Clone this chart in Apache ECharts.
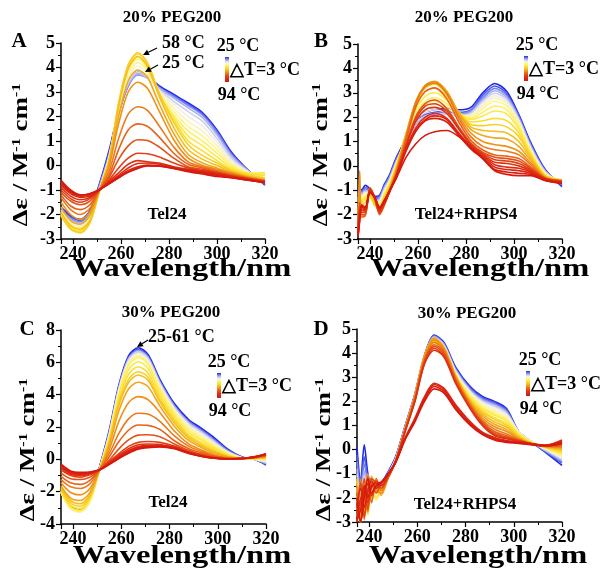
<!DOCTYPE html>
<html><head><meta charset="utf-8">
<script src="https://cdn.jsdelivr.net/npm/echarts@6/dist/echarts.min.js"></script>
<style>html,body{margin:0;padding:0;background:#fff}#c{width:604px;height:571px}</style>
</head><body><div id="c"></div>
<script>
// ---------------- DATA ----------------
const temps = [25,28,31,34,37,40,43,46,49,52,55,58,61,64,67,70,73,76,79,82,85,88,91,94];

// Panel A: Tel24, 20% PEG200
const wlA = [235,239,243,247,251,255,259,263,267,271,276,282,288,294,300,306,313,320];
const specA = [
[-1.7,-2.05,-2.2,-1.85,-0.75,0.6,2.2,3.3,3.8,3.65,3.25,2.9,2.55,2.15,1.45,0.55,-0.2,-0.8],
[-1.75,-2.1,-2.25,-1.9,-0.8,0.5,2.1,3.25,3.72,3.6,3.2,2.85,2.5,2.1,1.4,0.5,-0.2,-0.78],
[-1.8,-2.15,-2.3,-1.95,-0.85,0.45,2.1,3.25,3.7,3.58,3.18,2.82,2.45,2.05,1.35,0.45,-0.22,-0.75],
[-1.82,-2.2,-2.35,-2.0,-0.9,0.4,2.15,3.3,3.72,3.58,3.15,2.75,2.35,1.95,1.25,0.4,-0.22,-0.72],
[-1.85,-2.25,-2.4,-2.05,-0.95,0.35,2.2,3.35,3.8,3.6,3.1,2.62,2.2,1.8,1.1,0.3,-0.25,-0.68],
[-1.9,-2.3,-2.45,-2.1,-1.0,0.3,2.25,3.45,3.9,3.65,3.05,2.5,2.0,1.6,0.95,0.2,-0.25,-0.6],
[-1.92,-2.35,-2.5,-2.15,-1.0,0.3,2.3,3.6,4.05,3.75,3.0,2.35,1.8,1.4,0.8,0.12,-0.28,-0.5],
[-1.95,-2.4,-2.55,-2.2,-1.02,0.25,2.35,3.75,4.2,3.85,2.95,2.2,1.6,1.2,0.65,0.05,-0.3,-0.4],
[-1.97,-2.45,-2.6,-2.25,-1.03,0.22,2.4,3.9,4.35,3.95,2.9,2.05,1.4,1.0,0.5,0.0,-0.3,-0.32],
[-2.0,-2.5,-2.65,-2.3,-1.04,0.2,2.45,4.0,4.45,4.05,2.9,1.95,1.2,0.8,0.35,-0.08,-0.32,-0.3],
[-2.02,-2.55,-2.7,-2.33,-1.05,0.2,2.5,4.1,4.55,4.15,2.9,1.85,1.0,0.6,0.2,-0.15,-0.35,-0.4],
[-2.05,-2.6,-2.75,-2.35,-1.05,0.2,2.55,4.1,4.6,4.2,2.95,1.75,0.85,0.4,0.1,-0.2,-0.4,-0.5],
[-1.9,-2.45,-2.6,-2.25,-1.03,0.15,2.4,3.95,4.45,4.05,2.8,1.55,0.65,0.25,0.0,-0.25,-0.45,-0.55],
[-1.7,-2.25,-2.4,-2.05,-1.0,0.05,2.0,3.45,3.9,3.6,2.5,1.3,0.45,0.1,-0.1,-0.3,-0.45,-0.6],
[-1.5,-2.0,-2.2,-1.9,-1.0,-0.05,1.7,3.0,3.4,3.15,2.2,1.05,0.3,0.0,-0.15,-0.3,-0.5,-0.6],
[-1.3,-1.8,-2.0,-1.75,-1.0,-0.25,1.1,2.1,2.4,2.25,1.6,0.75,0.15,-0.05,-0.2,-0.35,-0.5,-0.62],
[-1.2,-1.65,-1.8,-1.6,-1.0,-0.4,0.65,1.45,1.7,1.6,1.15,0.5,0.05,-0.1,-0.25,-0.38,-0.52,-0.62],
[-1.1,-1.45,-1.6,-1.45,-1.0,-0.5,0.25,0.8,1.05,1.02,0.75,0.3,-0.05,-0.15,-0.28,-0.4,-0.52,-0.63],
[-1.0,-1.35,-1.5,-1.35,-1.0,-0.6,-0.1,0.3,0.5,0.48,0.35,0.1,-0.1,-0.2,-0.3,-0.42,-0.55,-0.65],
[-0.9,-1.25,-1.4,-1.3,-1.0,-0.65,-0.3,0.05,0.2,0.15,0.1,-0.05,-0.15,-0.22,-0.32,-0.45,-0.55,-0.65],
[-0.8,-1.15,-1.3,-1.25,-1.0,-0.7,-0.4,-0.1,0.08,0.1,0.05,-0.08,-0.18,-0.25,-0.35,-0.45,-0.58,-0.68],
[-0.72,-1.1,-1.25,-1.2,-1.0,-0.72,-0.45,-0.2,-0.05,0.02,0.0,-0.1,-0.2,-0.28,-0.38,-0.48,-0.58,-0.7],
[-0.65,-1.05,-1.2,-1.15,-0.98,-0.75,-0.5,-0.25,-0.1,0.0,-0.02,-0.12,-0.22,-0.3,-0.4,-0.5,-0.6,-0.7],
[-0.6,-1.0,-1.2,-1.15,-0.98,-0.75,-0.5,-0.28,-0.12,-0.02,-0.03,-0.12,-0.25,-0.35,-0.45,-0.5,-0.6,-0.7]
];

// Panel B: Tel24+RHPS4, 20% PEG200
const wlB = [235,235.7,236.5,238,240,242,244,246,248,251,255,259,263,267,272,277,282,287,292,297,302,307,313,320];
const specB = [
[-0.95,-0.9,-1.0,-0.8,-0.95,-1.25,-1.2,-0.75,-0.4,0.35,1.1,1.8,2.2,2.3,2.35,2.3,2.4,3.0,3.38,3.05,2.1,0.95,-0.15,-0.85],
[-1.0,-0.95,-1.05,-0.9,-1.0,-1.3,-1.25,-0.8,-0.45,0.3,1.05,1.75,2.1,2.2,2.25,2.2,2.3,2.9,3.28,2.95,2.05,0.9,-0.18,-0.8],
[-1.05,-1.0,-1.1,-0.95,-1.05,-1.35,-1.3,-0.85,-0.5,0.25,1.0,1.7,2.05,2.15,2.2,2.15,2.25,2.8,3.18,2.88,2.0,0.85,-0.2,-0.76],
[-1.1,-1.05,-1.15,-1.0,-1.1,-1.4,-1.35,-0.9,-0.55,0.2,1.0,1.7,2.0,2.1,2.15,2.1,2.2,2.72,3.08,2.8,1.95,0.8,-0.22,-0.72],
[-1.15,-1.1,-1.2,-1.05,-1.1,-1.45,-1.4,-0.95,-0.6,0.15,1.0,1.75,2.05,2.15,2.12,2.05,2.15,2.65,2.98,2.72,1.9,0.75,-0.25,-0.7],
[-1.2,-1.15,-1.25,-1.1,-1.15,-1.5,-1.45,-1.0,-0.65,0.1,1.05,1.85,2.2,2.3,2.2,2.05,2.1,2.55,2.88,2.62,1.85,0.7,-0.28,-0.68],
[-1.3,-1.2,-1.3,-1.15,-1.2,-1.5,-1.5,-1.05,-0.7,0.1,1.1,1.95,2.35,2.5,2.35,2.1,2.05,2.45,2.78,2.55,1.8,0.65,-0.3,-0.65],
[-1.35,-1.25,-1.35,-1.2,-1.2,-1.55,-1.55,-1.1,-0.72,0.05,1.15,2.05,2.5,2.65,2.45,2.15,2.0,2.35,2.65,2.45,1.7,0.6,-0.32,-0.62],
[-1.4,-1.3,-1.4,-1.25,-1.25,-1.6,-1.6,-1.15,-0.75,0.05,1.2,2.15,2.65,2.8,2.55,2.15,1.95,2.2,2.45,2.3,1.6,0.55,-0.35,-0.6],
[-1.45,-1.35,-1.45,-1.3,-1.3,-1.6,-1.65,-1.2,-0.8,0.0,1.25,2.3,2.85,3.0,2.7,2.2,1.9,2.05,2.25,2.12,1.5,0.5,-0.38,-0.58],
[-1.5,-1.4,-1.5,-1.35,-1.3,-1.65,-1.7,-1.25,-0.85,0.0,1.3,2.45,3.05,3.2,2.85,2.2,1.8,1.85,1.95,1.85,1.35,0.45,-0.4,-0.58],
[-1.6,-1.5,-1.6,-1.5,-1.2,-1.6,-1.75,-1.3,-0.9,-0.05,1.3,2.55,3.2,3.35,2.95,2.2,1.7,1.65,1.7,1.6,1.2,0.4,-0.42,-0.58],
[-1.9,-1.4,-1.7,-1.7,-1.1,-1.5,-1.8,-1.4,-0.95,-0.1,1.3,2.6,3.3,3.45,3.05,2.2,1.6,1.45,1.42,1.35,1.0,0.32,-0.44,-0.58],
[-2.2,-1.2,-1.8,-1.8,-1.0,-1.4,-1.85,-1.45,-1.0,-0.15,1.25,2.6,3.3,3.47,3.05,2.15,1.5,1.25,1.15,1.1,0.8,0.22,-0.45,-0.6],
[-2.6,-0.2,-1.9,-1.9,-1.0,-1.4,-1.9,-1.5,-1.0,-0.2,1.2,2.6,3.3,3.45,3.0,2.05,1.35,1.0,0.87,0.8,0.6,0.12,-0.48,-0.6],
[-2.8,-1.6,-2.0,-2.0,-0.95,-1.35,-1.95,-1.55,-1.05,-0.25,1.15,2.55,3.25,3.4,2.95,1.95,1.2,0.8,0.66,0.6,0.45,0.05,-0.5,-0.62],
[-2.9,-1.8,-2.1,-2.05,-0.9,-1.35,-2.0,-1.6,-1.1,-0.3,1.05,2.4,3.05,3.2,2.75,1.8,1.05,0.65,0.45,0.4,0.3,-0.05,-0.5,-0.62],
[-2.9,-1.5,-2.0,-2.0,-0.9,-1.3,-1.95,-1.6,-1.1,-0.35,0.9,2.0,2.55,2.7,2.35,1.6,0.95,0.55,0.35,0.3,0.2,-0.1,-0.52,-0.62],
[-2.9,-1.7,-1.9,-1.9,-0.95,-1.3,-1.9,-1.55,-1.1,-0.35,0.85,1.9,2.45,2.55,2.25,1.55,0.9,0.5,0.25,0.2,0.1,-0.15,-0.52,-0.65],
[-2.9,-1.9,-1.8,-1.85,-1.0,-1.3,-1.85,-1.5,-1.1,-0.4,0.8,1.8,2.3,2.4,2.15,1.5,0.85,0.45,0.15,0.1,0.0,-0.2,-0.55,-0.65],
[-2.9,-2.0,-1.7,-1.8,-1.0,-1.3,-1.8,-1.5,-1.1,-0.4,0.7,1.55,2.0,2.15,1.95,1.35,0.8,0.4,0.05,-0.05,-0.1,-0.25,-0.55,-0.68],
[-2.9,-2.1,-1.7,-1.75,-1.05,-1.3,-1.75,-1.45,-1.05,-0.4,0.65,1.45,1.9,2.05,1.9,1.3,0.75,0.35,-0.05,-0.15,-0.2,-0.3,-0.58,-0.7],
[-2.9,-2.2,-1.65,-1.7,-1.1,-1.3,-1.7,-1.45,-1.05,-0.45,0.6,1.4,1.85,1.95,1.8,1.25,0.7,0.3,-0.15,-0.25,-0.3,-0.35,-0.6,-0.72],
[-2.9,-2.3,-1.6,-1.7,-1.1,-1.3,-1.7,-1.4,-1.05,-0.5,0.35,0.9,1.25,1.4,1.45,1.2,0.75,0.3,-0.2,-0.35,-0.4,-0.4,-0.6,-0.72]
];

// Panel C: Tel24, 30% PEG200
const wlC = [235,239,243,247,251,255,259,263,267,271,276,282,288,293,298,304,310,315,320];
const specC = [
[-1.9,-2.9,-3.15,-2.45,-0.45,1.8,4.6,6.4,6.9,6.5,4.95,3.45,2.45,1.95,1.4,0.65,0.15,0.0,-0.35],
[-1.95,-2.95,-3.2,-2.5,-0.5,1.7,4.5,6.3,6.8,6.4,4.85,3.35,2.35,1.85,1.3,0.6,0.15,0.0,-0.3],
[-1.95,-3.0,-3.2,-2.55,-0.55,1.65,4.45,6.25,6.75,6.35,4.8,3.3,2.3,1.8,1.25,0.55,0.12,0.0,-0.28],
[-2.0,-3.0,-3.22,-2.55,-0.55,1.6,4.4,6.2,6.7,6.3,4.75,3.25,2.25,1.75,1.2,0.5,0.1,0.0,-0.25],
[-2.0,-3.05,-3.25,-2.6,-0.6,1.55,4.35,6.15,6.65,6.25,4.7,3.2,2.2,1.7,1.15,0.48,0.1,0.0,-0.2],
[-2.02,-3.05,-3.25,-2.6,-0.6,1.5,4.3,6.05,6.55,6.15,4.6,3.1,2.1,1.6,1.05,0.45,0.1,0.0,-0.15],
[-2.05,-3.05,-3.25,-2.6,-0.6,1.45,4.2,5.95,6.45,6.05,4.5,3.0,2.0,1.5,1.0,0.42,0.08,0.02,-0.1],
[-2.05,-3.05,-3.25,-2.6,-0.62,1.4,4.15,5.9,6.4,6.0,4.45,2.95,1.9,1.4,0.9,0.38,0.08,0.02,-0.05],
[-2.05,-3.0,-3.2,-2.55,-0.62,1.35,4.05,5.8,6.3,5.9,4.3,2.85,1.8,1.3,0.85,0.35,0.07,0.03,0.0],
[-2.0,-2.95,-3.15,-2.5,-0.63,1.3,3.9,5.55,6.04,5.65,4.1,2.7,1.65,1.2,0.75,0.3,0.06,0.04,0.05],
[-1.95,-2.85,-3.05,-2.4,-0.63,1.2,3.7,5.25,5.73,5.35,3.9,2.55,1.5,1.05,0.65,0.25,0.05,0.05,0.1],
[-1.85,-2.7,-2.9,-2.3,-0.64,1.1,3.5,4.95,5.42,5.1,3.7,2.4,1.4,0.95,0.55,0.2,0.05,0.06,0.1],
[-1.75,-2.55,-2.75,-2.2,-0.64,1.0,3.35,4.75,5.22,4.9,3.55,2.25,1.3,0.85,0.5,0.18,0.05,0.07,0.15],
[-1.65,-2.4,-2.55,-2.05,-0.65,0.85,3.0,4.35,4.77,4.5,3.3,2.05,1.15,0.75,0.4,0.15,0.05,0.08,0.15],
[-1.45,-2.05,-2.2,-1.8,-0.65,0.6,2.35,3.5,3.88,3.7,2.9,1.75,0.95,0.6,0.3,0.1,0.05,0.1,0.2],
[-1.25,-1.7,-1.8,-1.5,-0.65,0.35,1.6,2.5,2.85,2.8,2.35,1.45,0.8,0.5,0.25,0.08,0.05,0.1,0.2],
[-1.05,-1.45,-1.55,-1.3,-0.65,0.15,1.1,1.8,2.12,2.1,1.85,1.15,0.65,0.4,0.2,0.06,0.05,0.1,0.25],
[-0.85,-1.2,-1.25,-1.1,-0.65,-0.05,0.65,1.2,1.5,1.52,1.4,0.95,0.55,0.32,0.15,0.05,0.05,0.12,0.25],
[-0.65,-1.0,-1.1,-0.95,-0.65,-0.15,0.35,0.8,1.05,1.1,1.05,0.82,0.48,0.28,0.12,0.04,0.05,0.12,0.3],
[-0.55,-0.92,-1.0,-0.9,-0.65,-0.2,0.25,0.65,0.9,0.95,0.92,0.76,0.44,0.25,0.1,0.03,0.05,0.12,0.3],
[-0.48,-0.86,-0.95,-0.86,-0.65,-0.25,0.18,0.55,0.8,0.86,0.86,0.72,0.42,0.22,0.1,0.02,0.05,0.13,0.3],
[-0.42,-0.8,-0.9,-0.83,-0.65,-0.28,0.12,0.48,0.74,0.8,0.82,0.7,0.4,0.21,0.08,0.02,0.05,0.15,0.32],
[-0.36,-0.76,-0.85,-0.8,-0.65,-0.3,0.08,0.42,0.68,0.76,0.79,0.68,0.38,0.2,0.08,0.02,0.05,0.15,0.35],
[-0.3,-0.72,-0.8,-0.78,-0.65,-0.32,0.05,0.38,0.63,0.72,0.76,0.65,0.36,0.19,0.07,0.02,0.05,0.15,0.35]
];

// Panel D: Tel24+RHPS4, 30% PEG200
const wlD = [235,236.5,238,239.5,241,243,245,248,251,255,259,263,267,271,276,282,287,292,297,302,307,313,320];
const specD = [
[0.1,-1.3,0.2,-1.0,-1.5,-1.6,-1.4,-0.9,-0.3,1.0,2.3,3.9,4.75,4.45,3.4,2.6,2.2,2.0,1.7,0.75,0.35,-0.1,-0.65],
[-0.2,-1.5,-0.3,-1.2,-1.6,-1.65,-1.45,-0.95,-0.35,0.95,2.3,3.9,4.72,4.4,3.35,2.55,2.15,1.95,1.65,0.75,0.35,-0.08,-0.55],
[-0.5,-1.7,-0.6,-1.4,-1.7,-1.7,-1.5,-0.95,-0.35,0.95,2.25,3.85,4.7,4.38,3.3,2.5,2.1,1.9,1.6,0.75,0.35,-0.05,-0.5],
[-0.8,-1.9,-0.9,-1.5,-1.75,-1.7,-1.5,-1.0,-0.38,0.92,2.25,3.85,4.68,4.35,3.28,2.45,2.05,1.85,1.55,0.75,0.35,-0.03,-0.45],
[-1.0,-2.1,-1.1,-1.6,-1.8,-1.75,-1.55,-1.0,-0.4,0.9,2.2,3.8,4.65,4.33,3.25,2.42,2.0,1.8,1.5,0.75,0.35,0.0,-0.4],
[-1.3,-2.3,-1.4,-1.8,-1.6,-1.9,-1.6,-1.05,-0.42,0.9,2.2,3.8,4.6,4.3,3.2,2.38,1.95,1.7,1.45,0.75,0.35,0.02,-0.35],
[-1.6,-2.6,-1.6,-2.0,-1.5,-2.0,-1.65,-1.05,-0.42,0.88,2.15,3.75,4.55,4.25,3.15,2.32,1.88,1.62,1.38,0.72,0.35,0.05,-0.3],
[-1.9,-2.8,-1.8,-2.3,-1.6,-2.1,-1.7,-1.1,-0.45,0.85,2.15,3.75,4.5,4.2,3.1,2.25,1.8,1.55,1.3,0.7,0.35,0.07,-0.25],
[-2.1,-3.0,-2.0,-2.5,-1.7,-2.05,-1.7,-1.1,-0.45,0.85,2.1,3.7,4.45,4.15,3.05,2.2,1.75,1.48,1.24,0.68,0.33,0.08,-0.2],
[-2.3,-3.0,-2.2,-2.7,-1.8,-1.95,-1.65,-1.1,-0.45,0.85,2.1,3.7,4.4,4.12,3.0,2.15,1.7,1.42,1.18,0.65,0.32,0.1,-0.15],
[-1.6,-2.8,-1.4,-2.2,-1.3,-1.8,-1.6,-1.1,-0.45,0.88,2.2,3.8,4.5,4.2,3.05,2.1,1.62,1.32,1.08,0.6,0.3,0.1,-0.1],
[-1.2,-2.6,-1.9,-1.4,-1.9,-1.5,-1.7,-1.1,-0.45,0.88,2.2,3.85,4.55,4.22,3.05,2.05,1.55,1.25,1.0,0.55,0.28,0.1,-0.05],
[-2.0,-3.0,-1.2,-2.4,-1.1,-1.6,-1.8,-1.1,-0.45,0.9,2.25,3.9,4.6,4.25,3.05,2.0,1.48,1.15,0.93,0.52,0.27,0.12,0.0],
[-2.5,-1.8,-2.6,-1.0,-2.0,-1.3,-1.9,-1.15,-0.45,0.9,2.25,3.9,4.62,4.25,3.02,1.95,1.4,1.05,0.84,0.48,0.25,0.12,0.05],
[-1.5,-2.9,-1.5,-2.6,-1.3,-1.7,-1.8,-1.15,-0.45,0.88,2.2,3.85,4.55,4.2,2.98,1.9,1.3,0.95,0.75,0.45,0.25,0.13,0.1],
[-2.8,-1.2,-2.9,-1.6,-1.9,-1.2,-1.7,-1.15,-0.48,0.85,2.15,3.75,4.45,4.12,2.92,1.85,1.22,0.85,0.65,0.42,0.25,0.14,0.12],
[-1.8,-3.0,-2.0,-1.1,-2.2,-1.5,-1.5,-1.15,-0.48,0.82,2.1,3.7,4.35,4.05,2.88,1.8,1.15,0.75,0.58,0.4,0.25,0.15,0.15],
[-3.0,-2.2,-1.2,-2.5,-1.4,-1.8,-1.4,-1.1,-0.5,0.8,2.05,3.65,4.28,3.98,2.82,1.75,1.1,0.68,0.52,0.38,0.25,0.15,0.2],
[-2.6,-1.4,-2.8,-1.8,-1.2,-1.4,-1.6,-1.1,-0.5,0.78,2.0,3.6,4.2,3.9,2.78,1.72,1.05,0.62,0.48,0.36,0.25,0.16,0.25],
[-2.2,-3.0,-1.6,-2.2,-1.6,-1.3,-1.5,-1.05,-0.5,0.75,2.0,3.55,4.12,3.85,2.72,1.68,1.0,0.58,0.45,0.35,0.25,0.17,0.3],
[-3.0,-2.0,-1.9,-1.4,-1.9,-1.5,-1.4,-1.0,-0.5,0.5,1.3,2.2,2.75,2.55,1.85,1.15,0.72,0.5,0.38,0.32,0.25,0.18,0.4],
[-2.4,-1.6,-2.4,-1.7,-1.3,-1.6,-1.4,-1.0,-0.52,0.48,1.25,2.15,2.7,2.5,1.8,1.1,0.7,0.45,0.35,0.3,0.24,0.18,0.35],
[-2.9,-2.5,-1.5,-2.0,-1.5,-1.4,-1.35,-1.0,-0.52,0.45,1.2,2.1,2.62,2.42,1.72,1.05,0.65,0.42,0.32,0.28,0.22,0.17,0.3],
[-2.0,-3.0,-2.0,-1.2,-1.8,-1.5,-1.35,-1.0,-0.55,0.42,1.15,2.0,2.52,2.35,1.65,1.0,0.62,0.4,0.3,0.26,0.2,0.16,0.25]
];

const panelTitles = ['20% PEG200','20% PEG200','30% PEG200','30% PEG200'];
const panelLetters = ['A','B','C','D'];
const sampleNames = ['Tel24','Tel24+RHPS4','Tel24','Tel24+RHPS4'];
const yRanges = [[-3,5,1],[-3,5,1],[-4,8,2],[-3,5,1]];

// ---------------- STYLE / LAYOUT ----------------
const FONT = '"Liberation Serif","Times New Roman",serif';
const grids = [
  {left:61, top:43, width:204, height:196},
  {left:358, top:44, width:204, height:195},
  {left:61, top:330, width:205, height:194},
  {left:357, top:329, width:205, height:193}
];
const colorStops = [
  [0.00,[30,40,232]],[0.06,[95,108,236]],[0.14,[178,184,240]],[0.22,[242,240,228]],
  [0.30,[255,245,150]],[0.40,[252,232,60]],[0.50,[247,200,30]],[0.60,[240,150,25]],
  [0.70,[232,95,25]],[0.82,[222,50,20]],[1.00,[214,24,14]]
];
function colorAt(t){
  for(let k=1;k<colorStops.length;k++){
    if(t<=colorStops[k][0]){
      const a=colorStops[k-1], b=colorStops[k];
      const f=(t-a[0])/(b[0]-a[0]);
      const c=a[1].map((v,j)=>Math.round(v+(b[1][j]-v)*f));
      return 'rgb('+c.join(',')+')';
    }
  }
  return 'rgb('+colorStops[colorStops.length-1][1].join(',')+')';
}

const wls=[wlA,wlB,wlC,wlD], specs=[specA,specB,specC,specD];
const series=[];
specs.forEach((rows,p)=>{
  rows.forEach((row,i)=>{
    const col=colorAt(i/(rows.length-1));
    series.push({type:'line', name:temps[i]+' °C', xAxisIndex:p, yAxisIndex:p,
      data:wls[p].map((w,k)=>[w,row[k]]), showSymbol:false, symbol:'none',
      smooth:0.3, clip:true, silent:true, z:2,
      lineStyle:{width:1.6,color:col}, itemStyle:{color:col}});
  });
});

const axisCommon = {
  axisLine:{show:true,onZero:false,lineStyle:{color:'#000',width:1.5}},
  axisTick:{show:true,inside:false,length:5,lineStyle:{color:'#000',width:1.2}},
  minorTick:{show:true,splitNumber:2,length:3,lineStyle:{color:'#000',width:1}},
  splitLine:{show:false}, minorSplitLine:{show:false}
};
const xAxes = grids.map((g,p)=>Object.assign({}, axisCommon, {
  gridIndex:p, type:'value', min:235, max:320, splitNumber:4,
  axisLabel:{showMinLabel:false, fontFamily:FONT, fontWeight:'bold', fontSize:18, color:'#000', margin:6}
}));
const yAxes = grids.map((g,p)=>Object.assign({}, axisCommon, {
  gridIndex:p, type:'value', min:yRanges[p][0], max:yRanges[p][1], interval:yRanges[p][2],
  axisLabel:{fontFamily:FONT, fontWeight:'bold', fontSize:18, color:'#000', margin:6}
}));

// graphic elements (texts, legends, arrows)
function txt(text,x,y,size,align,extra){
  return Object.assign({type:'text', x:x, y:y, silent:true, z:100,
    style:Object.assign({text:text, fill:'#000', font:'bold '+size+'px '+FONT,
      align:align||'center', textAlign:align||'center', verticalAlign:'middle', textVerticalAlign:'middle'}, (extra&&extra.style)||{})},
    extra&&extra.el||{});
}
function arrow(x1,y1,x2,y2){
  const ang=Math.atan2(y2-y1,x2-x1), L=6, W=3;
  const bx=x2-L*Math.cos(ang), by=y2-L*Math.sin(ang);
  const px=-Math.sin(ang)*W, py=Math.cos(ang)*W;
  return [
    {type:'line', silent:true, z:100, shape:{x1:x1,y1:y1,x2:bx,y2:by}, style:{stroke:'#000',lineWidth:1.2}},
    {type:'polygon', silent:true, z:100, shape:{points:[[x2,y2],[bx+px,by+py],[bx-px,by-py]]}, style:{fill:'#000'}}
  ];
}
const gradStops = colorStops.map(s=>({offset:s[0], color:'rgb('+s[1].join(',')+')'}));
function legendBlock(cx, top, barX){
  return [
    txt('25 °C', cx, top, 18),
    {type:'rect', silent:true, z:100, shape:{x:barX, y:top+11, width:4, height:25},
     style:{fill:new echarts.graphic.LinearGradient(0,0,0,1,gradStops)}},
    txt('△T=3 °C', barX+5, top+24, 18, 'left'),
    txt('94 °C', cx+1, top+49, 18)
  ];
}
const ylabelRich = {s:{fontSize:12, fontWeight:'bold', fontFamily:FONT, verticalAlign:'top', lineHeight:22}};
function ylabel(x,y){
  return {type:'text', x:x, y:y, rotation:Math.PI/2, scaleX:1.35, silent:true, z:100,
    style:{text:'Δε / M{s|-1} cm{s|-1}', rich:ylabelRich, fill:'#000', font:'bold 20px '+FONT,
      lineHeight:22, align:'center', textAlign:'center', verticalAlign:'middle', textVerticalAlign:'middle'}};
}
const xlabelPos = [[182,270],[480,270],[182,557],[478,557]];
const titlePos = [[172,18],[464,18],[171,313],[467,314]];
const letterPos = [[19,42],[321,42],[27,330],[321,330]];
const samplePos = [[167,215],[466,215],[168,503],[465,505]];
const ylabelPos = [[22,155],[322,155],[29,450],[325,450]];

let graphics=[];
for(let p=0;p<4;p++){
  graphics.push(txt(panelTitles[p], titlePos[p][0], titlePos[p][1], 17));
  graphics.push(txt(panelLetters[p], letterPos[p][0], letterPos[p][1], 21));
  graphics.push(txt(sampleNames[p], samplePos[p][0], samplePos[p][1], 17));
  graphics.push(txt('Wavelength/nm', xlabelPos[p][0], xlabelPos[p][1], 25, 'center', {el:{scaleX:1.3}}));
  graphics.push(ylabel(ylabelPos[p][0], ylabelPos[p][1]));
}
graphics = graphics.concat(legendBlock(238,46,225), legendBlock(537,45,524), legendBlock(229,362,217), legendBlock(540,360,526));
graphics.push(txt('58 °C',162,43,18,'left'));
graphics.push(txt('25 °C',162,63,18,'left'));
graphics = graphics.concat(arrow(157,48,143,55), arrow(158,65,145,72));
graphics.push(txt('25-61 °C',148,337,18,'left'));
graphics = graphics.concat(arrow(148,340,137,347));

const chart = echarts.init(document.getElementById('c'), null, {renderer:'canvas'});
chart.setOption({
  animation:false,
  backgroundColor:'#fff',
  grid: grids.map(g=>Object.assign({containLabel:false}, g)),
  xAxis: xAxes, yAxis: yAxes,
  series: series,
  graphic: graphics
});
</script></body></html>
